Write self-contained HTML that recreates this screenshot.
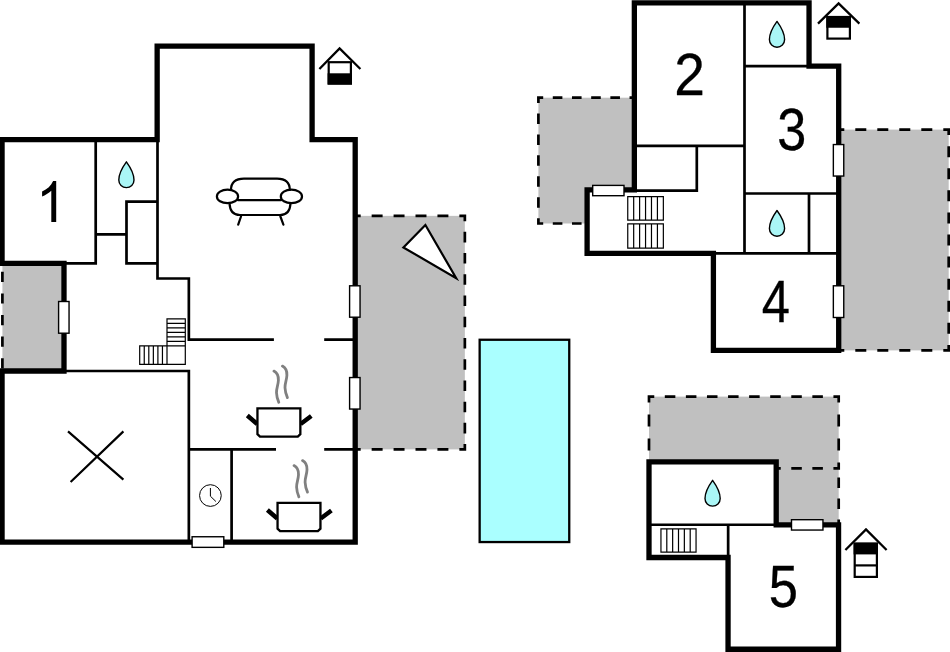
<!DOCTYPE html>
<html>
<head>
<meta charset="utf-8">
<title>Floor plan</title>
<style>
html,body{margin:0;padding:0;background:#fff;}
body{width:950px;height:652px;overflow:hidden;}
svg{display:block;}
.num{font-family:"Liberation Sans",sans-serif;font-size:59.1px;fill:#000;stroke:#000;stroke-width:0.3px;}
.thick{fill:none;stroke:#000;stroke-width:5.3;stroke-linejoin:miter;stroke-linecap:butt;}
.thin{fill:none;stroke:#000;stroke-width:2.7;stroke-linecap:butt;stroke-linejoin:miter;}
.win{fill:#fff;stroke:#000;stroke-width:1.4;}
.st{fill:none;stroke:#000;stroke-width:1.2;}
.grey{fill:#c0c0c0;stroke:none;}
.dash{fill:none;stroke:#000;stroke-width:2.7;}
.drop{fill:#aaf6f6;stroke:#000;stroke-width:1.4;stroke-linejoin:round;}
.ic{fill:none;stroke:#000;stroke-width:2.2;stroke-linecap:round;stroke-linejoin:round;}
</style>
</head>
<body>
<svg width="950" height="652" viewBox="0 0 950 652">
<defs>
  <path id="drop" d="M0,-12.6 C3.2,-8.2 7.6,-1 7.6,5.5 C7.6,9.9 4.2,13.2 0,13.2 C-4.2,13.2 -7.6,9.9 -7.6,5.5 C-7.6,-1 -3.2,-8.2 0,-12.6 Z"/>
  <g id="pot">
    <path d="M-9,8.3 L0.9,16.8 M44.3,16.8 L55,8.8" stroke="#000" stroke-width="4.5" stroke-linecap="butt" fill="none"/>
    <path d="M1.15,1.15 H44.05 V27 L41.5,29.45 H3.7 L1.15,27 Z" fill="#fff" stroke="#000" stroke-width="2.3" stroke-linejoin="miter"/>
    <path d="M17.6,-36.1 C20.5,-34.5 22.3,-32 22.1,-27 C21.9,-22 20,-19 20.2,-14.5 C20.4,-10 21.3,-7.5 22.5,-4.9 M26.1,-41.1 C29,-39.5 30.8,-37 30.6,-32 C30.4,-27 28.5,-24 28.7,-19.5 C28.9,-15 29.8,-12.5 31.1,-9.6" stroke="#808080" stroke-width="2.8" stroke-linecap="round" fill="none"/>
  </g>
</defs>
<rect x="0" y="0" width="950" height="652" fill="#fff"/>

<!-- ===== PATIOS (grey) ===== -->
<g id="patios">
  <rect class="grey" x="2.4" y="262" width="62" height="110"/>
  <rect class="grey" x="355.2" y="215.85" width="109.65" height="233.55"/>
  <rect class="grey" x="538.4" y="97.7" width="95.95" height="125.8"/>
  <rect class="grey" x="838.7" y="129.6" width="110" height="220.8"/>
  <rect class="grey" x="776.2" y="461.85" width="62.5" height="63"/>
  <rect class="grey" x="649" y="396.6" width="189.7" height="71.8"/>
</g>

<!-- ===== DASHED EDGES ===== -->
<g id="dashes" class="dash">
  <path d="M2.4,271.8V282.0 M2.4,293.4V303.6 M2.4,315.0V325.2 M2.4,336.6V346.8 M2.4,358.2V368.4 M353.85,215.85L360.68,215.85 M371.65,215.85L382.61,215.85 M393.58,215.85L404.54,215.85 M415.51,215.85L426.47,215.85 M437.44,215.85L448.40,215.85 M459.37,215.85L466.20,215.85 M464.85,214.50L464.85,221.16 M464.85,231.77L464.85,242.39 M464.85,253.01L464.85,263.62 M464.85,274.24L464.85,284.85 M464.85,295.47L464.85,306.09 M464.85,316.70L464.85,327.32 M464.85,337.93L464.85,348.55 M464.85,359.16L464.85,369.78 M464.85,380.40L464.85,391.01 M464.85,401.63L464.85,412.24 M464.85,422.86L464.85,433.48 M464.85,444.09L464.85,450.75 M353.85,449.40L360.68,449.40 M371.65,449.40L382.61,449.40 M393.58,449.40L404.54,449.40 M415.51,449.40L426.47,449.40 M437.44,449.40L448.40,449.40 M459.37,449.40L466.20,449.40 M537.05,97.70L543.20,97.70 M552.79,97.70L562.39,97.70 M571.98,97.70L581.58,97.70 M591.17,97.70L600.77,97.70 M610.36,97.70L619.96,97.70 M629.55,97.70L635.70,97.70 M538.40,96.35L538.40,102.94 M538.40,113.42L538.40,123.91 M538.40,134.39L538.40,144.88 M538.40,155.36L538.40,165.84 M538.40,176.32L538.40,186.81 M538.40,197.29L538.40,207.77 M538.40,218.26L538.40,224.85 M537.05,223.50L543.20,223.50 M552.79,223.50L562.39,223.50 M571.98,223.50L581.58,223.50 M837.45,129.60L844.30,129.60 M855.30,129.60L866.30,129.60 M877.30,129.60L888.30,129.60 M899.30,129.60L910.30,129.60 M921.30,129.60L932.30,129.60 M943.30,129.60L950.15,129.60 M948.70,128.25L948.70,135.12 M948.70,146.16L948.70,157.20 M948.70,168.24L948.70,179.28 M948.70,190.32L948.70,201.36 M948.70,212.40L948.70,223.44 M948.70,234.48L948.70,245.52 M948.70,256.56L948.70,267.60 M948.70,278.64L948.70,289.68 M948.70,300.72L948.70,311.76 M948.70,322.80L948.70,333.84 M948.70,344.88L948.70,351.75 M837.45,350.40L844.30,350.40 M855.30,350.40L866.30,350.40 M877.30,350.40L888.30,350.40 M899.30,350.40L910.30,350.40 M921.30,350.40L932.30,350.40 M943.30,350.40L950.15,350.40 M838.70,477.60L838.70,488.10 M838.70,498.60L838.70,509.10 M838.70,519.60L838.70,526.20 M647.65,396.60L654.27,396.60 M664.81,396.60L675.35,396.60 M685.89,396.60L696.42,396.60 M706.96,396.60L717.50,396.60 M728.04,396.60L738.58,396.60 M749.12,396.60L759.66,396.60 M770.20,396.60L780.74,396.60 M791.28,396.60L801.81,396.60 M812.35,396.60L822.89,396.60 M833.43,396.60L840.05,396.60 M649.00,395.25L649.00,402.58 M649.00,414.55L649.00,426.52 M649.00,438.48L649.00,450.45 M838.70,395.25L838.70,402.58 M838.70,414.55L838.70,426.52 M838.70,438.48L838.70,450.45 M838.70,462.42L838.70,469.75 M770.20,468.40L780.74,468.40 M791.28,468.40L801.81,468.40 M812.35,468.40L822.89,468.40 M833.43,468.40L840.05,468.40"/>
</g>

<!-- ===== POOL ===== -->
<rect x="479.65" y="339.75" width="89.6" height="202.3" fill="#aaffff" stroke="#000" stroke-width="2.3"/>

<!-- ===== BUILDING 1 ===== -->
<g id="b1">
  <!-- thin interior walls -->
  <path class="thin" d="M95.7,139.7V264.75 M64,263.4H97.05 M95.7,234.4H126.5 M126.5,200.35V264.75 M125.15,201.7H157.5 M125.15,263.4H157.5 M157.5,139.7V279.85 M156.15,278.5H190.2 M188.85,278.5V340.9 M187.5,339.55H273.9 M324.2,339.55H355.2 M64,371H190.2 M188.85,369.65V542 M187.5,449.45H276 M324.2,449.45H355.2 M231.6,449.45V542"/>
  <!-- outer thick wall -->
  <path class="thick" d="M2.05,371 H64 V263.4 H2.05 V139.7 H157.15 V46.2 H312.1 V139.7 H355.2 V542.15 H2.05 Z"/>
  <!-- windows -->
  <rect class="win" x="58.6" y="301.5" width="10.45" height="31.7"/>
  <rect class="win" x="349.6" y="285.8" width="10.45" height="31.4"/>
  <rect class="win" x="349.6" y="377.55" width="10.45" height="31.5"/>
  <rect class="win" x="192.1" y="536.75" width="31.7" height="10.6"/>
  <!-- stairs -->
  <path class="st" d="M167,318.8H185.3V364.3H139.7V345.9H167Z M167,345.9H185.3 M167,345.9V364.3 M167,323.32H185.3 M167,327.83H185.3 M167,332.35H185.3 M167,336.87H185.3 M167,341.38H185.3 M144.25,345.9V364.3 M148.80,345.9V364.3 M153.35,345.9V364.3 M157.90,345.9V364.3 M162.45,345.9V364.3"/>
  <!-- drop -->
  <use href="#drop" class="drop" x="126.4" y="174.4"/>
  <!-- number -->
  <path d="M56.2,222 H51.3 V190.7 C48.6,193.2 45.2,195.2 42.1,196.4 V191.5 C47.2,189.2 51.2,185.4 53.1,180.9 H56.2 Z" fill="#000"/>
  <!-- sofa -->
  <g class="ic">
    <path d="M231,190 C231,182 236,178.6 244,178.6 H277 C285,178.6 289.8,182 289.8,190"/>
    <ellipse cx="227.5" cy="196.4" rx="10.6" ry="6.8"/>
    <ellipse cx="291.4" cy="196.4" rx="10.6" ry="6.8"/>
    <path d="M238,200.2H281"/>
    <path d="M229.5,203.2 Q230,215 240,215 H280 Q290,215 290.5,203.2"/>
    <path d="M241,216.5 L238.2,224.6 M280.4,216.5 L283.4,224.6"/>
  </g>
  <!-- X -->
  <path d="M68,431.4 L123.4,479.6 M123.4,431.4 L70.6,482" stroke="#000" stroke-width="2.2" fill="none"/>
  <!-- clock -->
  <circle cx="210.4" cy="495.55" r="10.85" fill="#fff" stroke="#000" stroke-width="1"/>
  <path d="M210.4,488 V496.2 L215.9,501.5" fill="none" stroke="#000" stroke-width="1"/>
  <!-- pots -->
  <use href="#pot" x="256.3" y="407.2"/>
  <use href="#pot" x="276.4" y="501.7"/>
  <!-- house icon -->
  <g>
    <path d="M319.4,69 L339.6,48.5 L360.4,69" fill="none" stroke="#000" stroke-width="2.3"/>
    <rect x="328.7" y="62.2" width="22.2" height="21.3" fill="#fff" stroke="#000" stroke-width="2.2"/>
    <rect x="327.6" y="73.3" width="24.4" height="11.3" fill="#000"/>
  </g>
  <!-- triangle -->
  <path d="M425.4,225 L403.4,247.4 L456.2,278.2 Z" fill="#fff" stroke="#000" stroke-width="2.2" stroke-linejoin="miter"/>
</g>

<!-- ===== BUILDING 2 ===== -->
<g id="b2">
  <path d="M634.35,2.8 H809.05 V66.05 H838.7 V350.35 H713.4 V253.3 H587.1 V189.9 H634.35 Z" fill="#fff"/>
  <path class="thin" d="M744.5,2.8V253.3 M744.5,66.05H809 M634.3,145.8H745.85 M696.8,145.8V191.9 M634.3,190.55H698.15 M744.5,193.5H838.7 M809,193.5V253.3 M713.4,253.3H838.7"/>
  <path class="thick" d="M634.35,2.8 H809.05 V66.05 H838.7 V350.35 H713.4 V253.3 H587.1 V189.9 H634.35 Z"/>
  <rect class="win" x="592.7" y="185.4" width="31.3" height="10.3"/>
  <rect class="win" x="833.35" y="144.55" width="10.4" height="31.5"/>
  <rect class="win" x="833.35" y="285.8" width="10.4" height="31.7"/>
  <path class="st" d="M627.75,196.55H663.35V220.15H627.75Z M633.68,196.55V220.15 M639.62,196.55V220.15 M645.55,196.55V220.15 M651.48,196.55V220.15 M657.42,196.55V220.15 M627.75,223.95H663.35V248.05H627.75Z M633.68,223.95V248.05 M639.62,223.95V248.05 M645.55,223.95V248.05 M651.48,223.95V248.05 M657.42,223.95V248.05"/>
  <use href="#drop" class="drop" x="777" y="34"/>
  <use href="#drop" class="drop" x="777" y="223.1"/>
  <text class="num" transform="translate(674.25,94.9) scale(0.933,1)">2</text>
  <text class="num" transform="translate(777.31,150.2) scale(0.884,1)">3</text>
  <text class="num" transform="translate(761.73,322) scale(0.852,1)" style="font-size:59.6px">4</text>
  <g>
    <path d="M818,23.6 L838.6,3.35 L859.4,23.6" fill="none" stroke="#000" stroke-width="2.3"/>
    <rect x="827.4" y="17.05" width="22.5" height="21.55" fill="#fff" stroke="#000" stroke-width="2.2"/>
    <rect x="826.3" y="15.95" width="24.7" height="11.8" fill="#000"/>
  </g>
</g>

<!-- ===== BUILDING 3 ===== -->
<g id="b3">
  <path d="M649,461.85 H776.2 V524.8 H838.55 V649.25 H728.05 V557.5 H649 Z" fill="#fff"/>
  <path class="thin" d="M649,524.75H776.2 M728.15,524.75V557.5"/>
  <path class="thick" d="M649,461.85 H776.2 V524.8 H838.55 V649.25 H728.05 V557.5 H649 Z"/>
  <rect class="win" x="791.5" y="519.7" width="31.45" height="10.35"/>
  <path class="st" d="M660.95,528.95H696.05V552.05H660.95Z M666.80,528.95V552.05 M672.65,528.95V552.05 M678.50,528.95V552.05 M684.35,528.95V552.05 M690.20,528.95V552.05"/>
  <use href="#drop" class="drop" x="712.6" y="492.9"/>
  <text class="num" transform="translate(768.8,606.8) scale(0.897,1)" style="font-size:58.6px">5</text>
  <g>
    <path d="M845.4,550 L866,529.4 L886.6,550" fill="none" stroke="#000" stroke-width="2.3"/>
    <rect x="854.7" y="543.7" width="22.2" height="33.2" fill="#fff" stroke="#000" stroke-width="2.2"/>
    <rect x="853.6" y="542.6" width="24.4" height="11.8" fill="#000"/>
    <path d="M854.7,565.4H876.9" stroke="#000" stroke-width="2.2" fill="none"/>
  </g>
</g>
</svg>
</body>
</html>
